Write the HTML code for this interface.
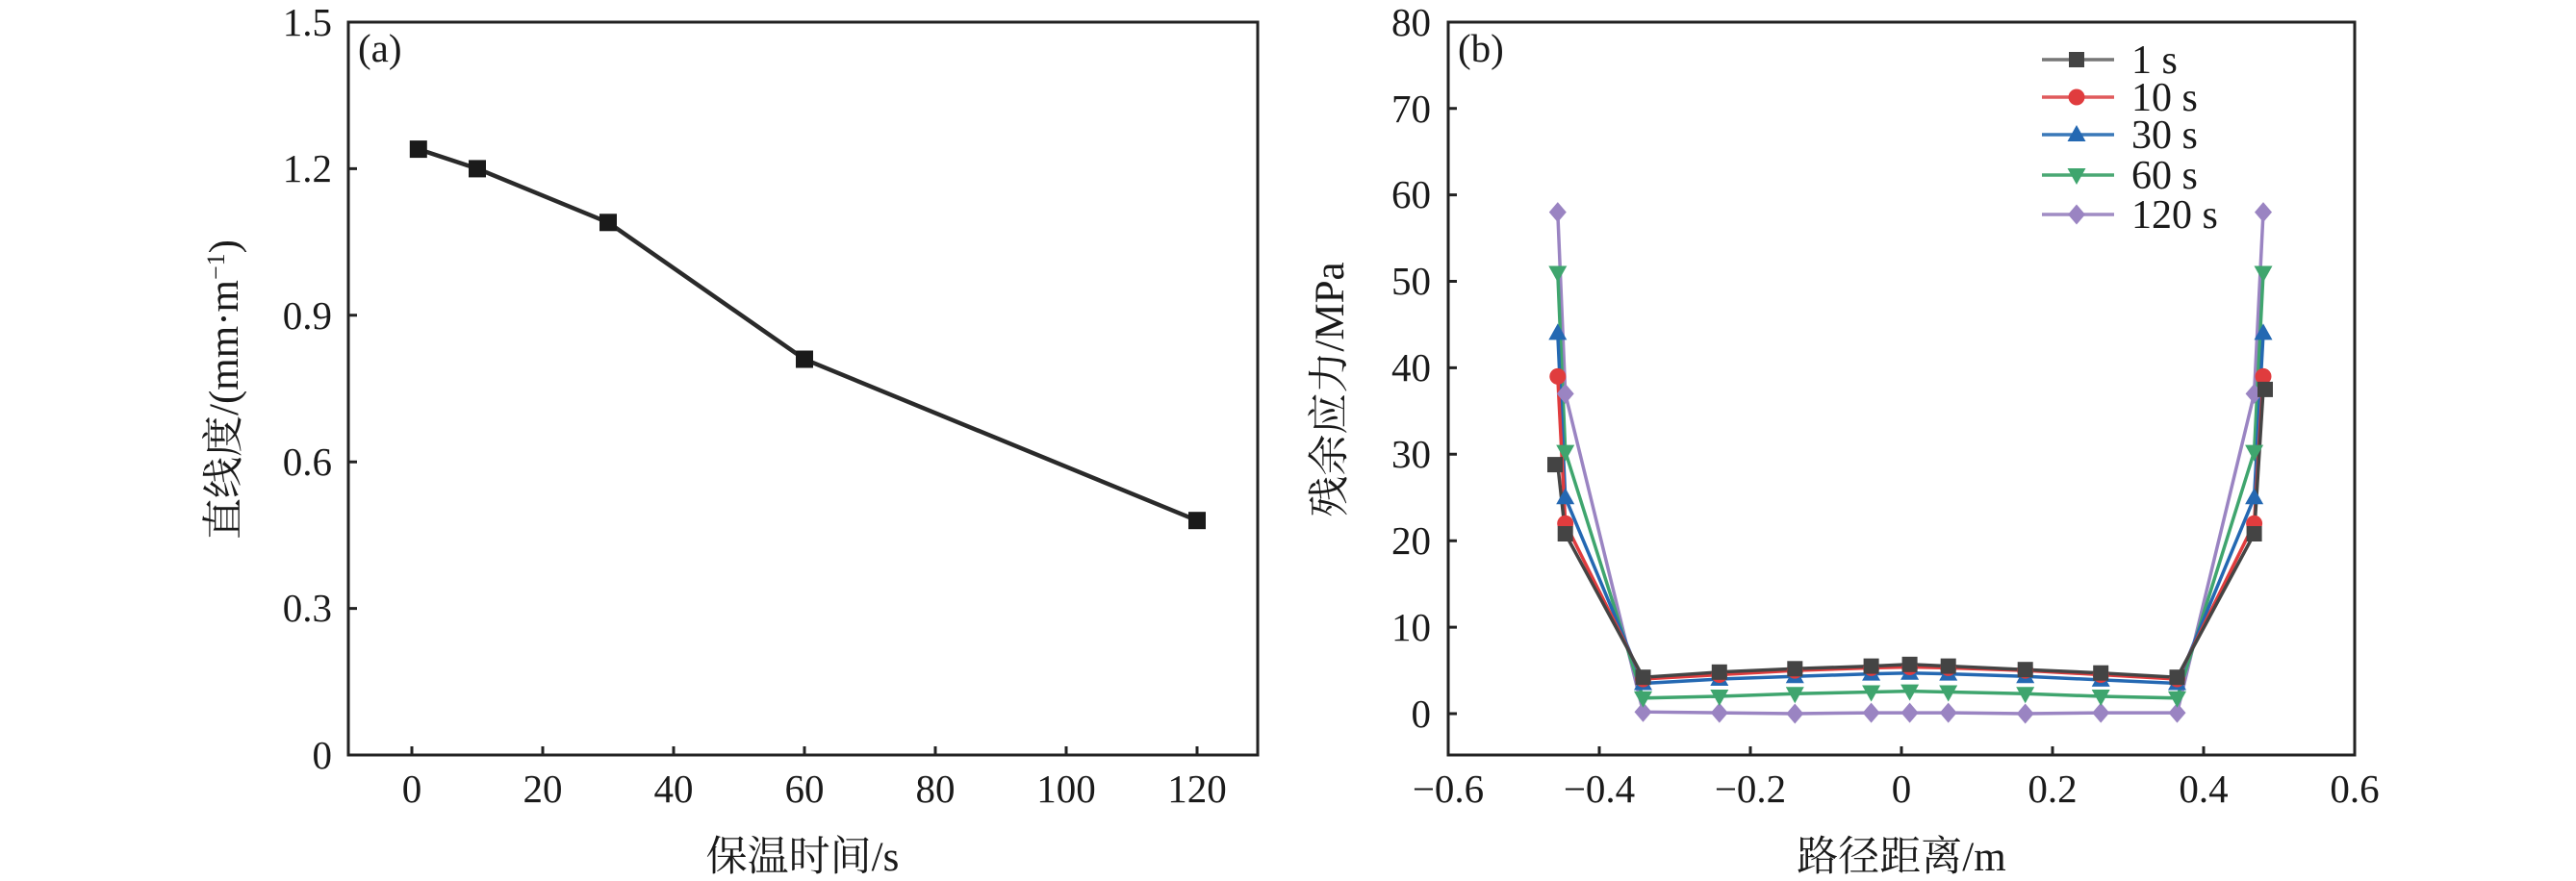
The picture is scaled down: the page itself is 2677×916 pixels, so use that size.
<!DOCTYPE html>
<html><head><meta charset="utf-8"><style>
html,body{margin:0;padding:0;background:#fff;}
svg{display:block;}
text{font-family:"Liberation Serif","Noto Serif CJK SC","Noto Sans CJK SC",serif;fill:#1a1a1a;}
</style></head><body>
<svg width="2677" height="916" viewBox="0 0 2677 916" xmlns="http://www.w3.org/2000/svg">
<defs>
<rect id="sq" x="-9" y="-9" width="18" height="18"/>
<rect id="sqs" x="-8" y="-8" width="16" height="16"/>
<circle id="ci" r="8.5"/>
<polygon id="tu" points="0,-10 9.5,7 -9.5,7"/>
<polygon id="td" points="0,10 9.5,-7 -9.5,-7"/>
<polygon id="di" points="0,-10.5 9,0 0,10.5 -9,0"/>
</defs>

<!-- Panel (a) -->
<g stroke="#222" stroke-width="3" fill="none">
<rect x="362" y="23" width="945" height="762"/>
<path d="M428 785v-9M564 785v-9M700 785v-9M836 785v-9M972 785v-9M1108 785v-9M1244 785v-9
M362 632.6h9M362 480.2h9M362 327.8h9M362 175.4h9"/>
</g>
<g font-size="41" text-anchor="middle">
<text x="428" y="834">0</text><text x="564" y="834">20</text><text x="700" y="834">40</text>
<text x="836" y="834">60</text><text x="972" y="834">80</text><text x="1108" y="834">100</text><text x="1244" y="834">120</text>
</g>
<g font-size="41" text-anchor="end">
<text x="345" y="799">0</text><text x="345" y="646">0.3</text><text x="345" y="494">0.6</text>
<text x="345" y="342">0.9</text><text x="345" y="189">1.2</text><text x="345" y="37">1.5</text>
</g>
<text x="372" y="64" font-size="41">(a)</text>
<text x="834" y="905" font-size="43" text-anchor="middle">保温时间/s</text>
<text transform="translate(247,405) rotate(-90)" font-size="43" text-anchor="middle">直线度/(mm·m<tspan dy="-14" font-size="26">−1</tspan><tspan dy="14">)</tspan></text>
<polyline points="434.8,155.1 496,175.4 632,231.3 836,373.5 1244,541.2" fill="none" stroke="#2a2a2a" stroke-width="4.5"/>
<g fill="#1a1a1a">
<use href="#sq" x="434.8" y="155.1"/><use href="#sq" x="496" y="175.4"/><use href="#sq" x="632" y="231.3"/>
<use href="#sq" x="836" y="373.5"/><use href="#sq" x="1244" y="541.2"/>
</g>

<!-- Panel (b) -->
<g stroke="#222" stroke-width="3" fill="none">
<rect x="1505" y="23" width="942" height="762"/>
<path d="M1662 785v-9M1819 785v-9M1976 785v-9M2133 785v-9M2290 785v-9
M1505 742h9M1505 652.1h9M1505 562.2h9M1505 472.3h9M1505 382.4h9M1505 292.5h9M1505 202.6h9M1505 112.7h9"/>
</g>
<g font-size="41" text-anchor="middle">
<text x="1505" y="834">−0.6</text><text x="1662" y="834">−0.4</text><text x="1819" y="834">−0.2</text>
<text x="1976" y="834">0</text><text x="2133" y="834">0.2</text><text x="2290" y="834">0.4</text><text x="2447" y="834">0.6</text>
</g>
<g font-size="41" text-anchor="end">
<text x="1487" y="756">0</text><text x="1487" y="666">10</text><text x="1487" y="576">20</text>
<text x="1487" y="486">30</text><text x="1487" y="396">40</text><text x="1487" y="306">50</text>
<text x="1487" y="216">60</text><text x="1487" y="127">70</text><text x="1487" y="37">80</text>
</g>
<text x="1515" y="64" font-size="41">(b)</text>
<text x="1976" y="905" font-size="43" text-anchor="middle">路径距离/m</text>
<text transform="translate(1396,405) rotate(-90)" font-size="43" text-anchor="middle">残余应力/MPa</text>

<g fill="none" stroke-width="3.5">
<polyline stroke="#9a84c2" points="1618.8,220.6 1626.7,409.4 1707.5,740.2 1786.8,741.1 1865.3,742 1944.6,741.1 1984.6,741.1 2024.7,741.1 2104.7,742 2183.2,741.1 2262.5,741.1 2342.6,409.4 2352,220.6"/>
<polyline stroke="#3fa56e" points="1618.8,283.5 1626.7,469.6 1707.5,725.8 1786.8,724 1865.3,721.3 1944.6,719.5 1984.6,718.6 2024.7,719.5 2104.7,721.3 2183.2,724 2262.5,725.8 2342.6,469.6 2352,283.5"/>
<polyline stroke="#2468b2" points="1618.8,346.4 1626.7,517.3 1707.5,710.5 1786.8,706 1865.3,703.3 1944.6,700.6 1984.6,699.7 2024.7,700.6 2104.7,703.3 2183.2,706.9 2262.5,710.5 2342.6,517.3 2352,346.4"/>
<polyline stroke="#e03c3e" points="1618.8,391.4 1626.7,544.2 1707.5,706 1786.8,701.5 1865.3,697.1 1944.6,694.4 1984.6,693.5 2024.7,694.4 2104.7,697.1 2183.2,701.5 2262.5,706 2342.6,544.2 2352,391.4"/>
<polyline stroke="#444" points="1618.8,483.1 1626.7,555 1707.5,704.2 1786.8,698.8 1865.3,695.3 1944.6,692.6 1984.6,690.8 2024.7,692.6 2104.7,696.2 2183.2,699.7 2262.5,704.2 2342.6,555 2352,404.9"/>
</g>
<g fill="#9a84c2">
<use href="#di" x="1618.8" y="220.6"/><use href="#di" x="1626.7" y="409.4"/><use href="#di" x="1707.5" y="740.2"/><use href="#di" x="1786.8" y="741.1"/><use href="#di" x="1865.3" y="742"/><use href="#di" x="1944.6" y="741.1"/><use href="#di" x="1984.6" y="741.1"/><use href="#di" x="2024.7" y="741.1"/><use href="#di" x="2104.7" y="742"/><use href="#di" x="2183.2" y="741.1"/><use href="#di" x="2262.5" y="741.1"/><use href="#di" x="2342.6" y="409.4"/><use href="#di" x="2352" y="220.6"/>
</g>
<g fill="#3fa56e">
<use href="#td" x="1618.8" y="283.5"/><use href="#td" x="1626.7" y="469.6"/><use href="#td" x="1707.5" y="725.8"/><use href="#td" x="1786.8" y="724"/><use href="#td" x="1865.3" y="721.3"/><use href="#td" x="1944.6" y="719.5"/><use href="#td" x="1984.6" y="718.6"/><use href="#td" x="2024.7" y="719.5"/><use href="#td" x="2104.7" y="721.3"/><use href="#td" x="2183.2" y="724"/><use href="#td" x="2262.5" y="725.8"/><use href="#td" x="2342.6" y="469.6"/><use href="#td" x="2352" y="283.5"/>
</g>
<g fill="#2468b2">
<use href="#tu" x="1618.8" y="346.4"/><use href="#tu" x="1626.7" y="517.3"/><use href="#tu" x="1707.5" y="710.5"/><use href="#tu" x="1786.8" y="706"/><use href="#tu" x="1865.3" y="703.3"/><use href="#tu" x="1944.6" y="700.6"/><use href="#tu" x="1984.6" y="699.7"/><use href="#tu" x="2024.7" y="700.6"/><use href="#tu" x="2104.7" y="703.3"/><use href="#tu" x="2183.2" y="706.9"/><use href="#tu" x="2262.5" y="710.5"/><use href="#tu" x="2342.6" y="517.3"/><use href="#tu" x="2352" y="346.4"/>
</g>
<g fill="#e03c3e">
<use href="#ci" x="1618.8" y="391.4"/><use href="#ci" x="1626.7" y="544.2"/><use href="#ci" x="1707.5" y="706"/><use href="#ci" x="1786.8" y="701.5"/><use href="#ci" x="1865.3" y="697.1"/><use href="#ci" x="1944.6" y="694.4"/><use href="#ci" x="1984.6" y="693.5"/><use href="#ci" x="2024.7" y="694.4"/><use href="#ci" x="2104.7" y="697.1"/><use href="#ci" x="2183.2" y="701.5"/><use href="#ci" x="2262.5" y="706"/><use href="#ci" x="2342.6" y="544.2"/><use href="#ci" x="2352" y="391.4"/>
</g>
<g fill="#444">
<use href="#sqs" x="1616" y="483.1"/><use href="#sqs" x="1626.7" y="555"/><use href="#sqs" x="1707.5" y="704.2"/><use href="#sqs" x="1786.8" y="698.8"/><use href="#sqs" x="1865.3" y="695.3"/><use href="#sqs" x="1944.6" y="692.6"/><use href="#sqs" x="1984.6" y="690.8"/><use href="#sqs" x="2024.7" y="692.6"/><use href="#sqs" x="2104.7" y="696.2"/><use href="#sqs" x="2183.2" y="699.7"/><use href="#sqs" x="2262.5" y="704.2"/><use href="#sqs" x="2342.6" y="555"/><use href="#sqs" x="2354" y="404.9"/>
</g>

<!-- Legend -->
<g stroke-width="3.5">
<line x1="2122" y1="62" x2="2197" y2="62" stroke="#777"/>
<line x1="2122" y1="101" x2="2197" y2="101" stroke="#e05a5c"/>
<line x1="2122" y1="140" x2="2197" y2="140" stroke="#3a78b8"/>
<line x1="2122" y1="182" x2="2197" y2="182" stroke="#4aa874"/>
<line x1="2122" y1="223" x2="2197" y2="223" stroke="#a08cc4"/>
</g>
<use href="#sqs" x="2158" y="62" fill="#444"/>
<use href="#ci" x="2158" y="101" fill="#e03c3e"/>
<use href="#tu" x="2158" y="140" fill="#2468b2"/>
<use href="#td" x="2158" y="182" fill="#3fa56e"/>
<use href="#di" x="2158" y="223" fill="#9a84c2"/>
<g font-size="42">
<text x="2215" y="76">1 s</text>
<text x="2215" y="115">10 s</text>
<text x="2215" y="154">30 s</text>
<text x="2215" y="196">60 s</text>
<text x="2215" y="237">120 s</text>
</g>
</svg>
</body></html>
